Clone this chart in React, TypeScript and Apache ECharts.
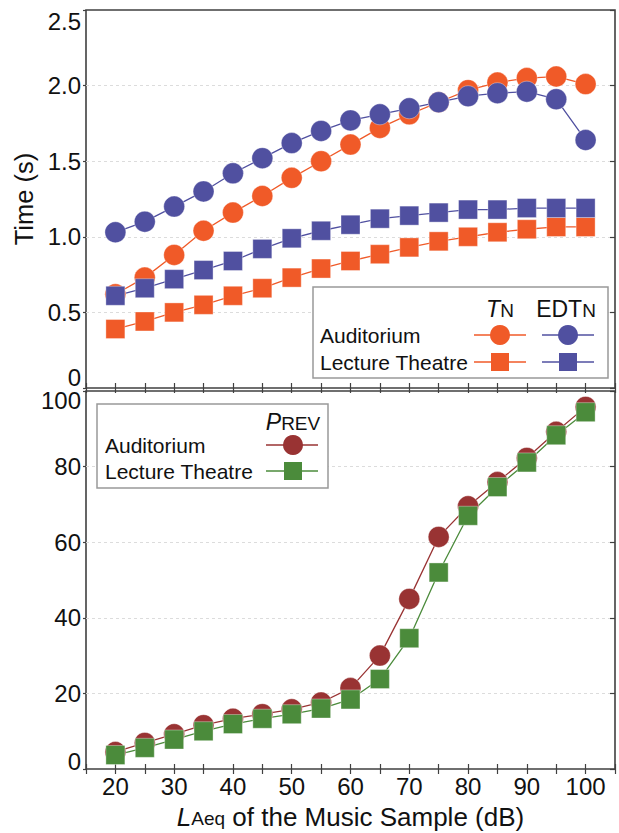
import React, { useEffect, useRef } from "react";
import * as echarts from "echarts";

const xValues = [20, 25, 30, 35, 40, 45, 50, 55, 60, 65, 70, 75, 80, 85, 90, 95, 100];
const xTickLabels = [20, 30, 40, 50, 60, 70, 80, 90, 100];

const audTN = [0.62, 0.73, 0.88, 1.04, 1.16, 1.27, 1.39, 1.5, 1.61, 1.72, 1.81, 1.89, 1.97, 2.02, 2.05, 2.06, 2.01];
const audEDT = [1.03, 1.1, 1.2, 1.3, 1.42, 1.52, 1.62, 1.7, 1.77, 1.81, 1.85, 1.89, 1.93, 1.95, 1.96, 1.91, 1.64];
const lecTN = [0.39, 0.44, 0.5, 0.55, 0.61, 0.66, 0.73, 0.79, 0.84, 0.885, 0.93, 0.97, 1.0, 1.03, 1.05, 1.065, 1.065];
const lecEDT = [0.61, 0.66, 0.72, 0.78, 0.84, 0.92, 0.99, 1.04, 1.08, 1.12, 1.14, 1.16, 1.18, 1.18, 1.19, 1.19, 1.19];

const audPREV = [4.5, 6.9, 9.2, 11.6, 13.3, 14.5, 15.8, 17.6, 21.4, 30.0, 45.0, 61.4, 69.5, 75.9, 82.3, 89.2, 95.8];
const lecPREV = [3.7, 5.6, 7.8, 10.0, 11.9, 13.3, 14.5, 16.0, 18.4, 23.8, 34.6, 52.0, 67.0, 74.6, 81.1, 88.3, 94.4];

const FONT = "'Liberation Sans', Arial, sans-serif";
const ORANGE = "#F05A28";
const BLUE = "#5050A0";
const DARKRED = "#993333";
const GREEN = "#4B8B3B";
const FRAME = "#404040";
const TXT = "#111111";

const pairs = (ys: number[]) => xValues.map((x, i) => [x, ys[i]]);

export default function App() {
  const ref = useRef<HTMLDivElement>(null);
  useEffect(() => {
    document.body.style.margin = "0";
    const chart = echarts.init(ref.current!, undefined, { renderer: "svg" });

    const lbl = { fontSize: 24, fontFamily: FONT, color: TXT };
    const gridLeft = 86;
    const gridW = 529;
    const grids = [
      { left: gridLeft, top: 10, width: gridW, height: 378, show: true, borderColor: FRAME, borderWidth: 1.6, backgroundColor: "transparent", containLabel: false, outerBoundsMode: "none" },
      { left: gridLeft, top: 391, width: gridW, height: 378, show: true, borderColor: FRAME, borderWidth: 1.6, backgroundColor: "transparent", containLabel: false, outerBoundsMode: "none" },
    ];

    const xAxisBase = {
      type: "value",
      min: 15,
      max: 105,
      interval: 5,
      axisLine: { show: false },
      axisTick: { show: true, inside: true, length: 5, lineStyle: { color: FRAME, width: 1.2 } },
      splitLine: { show: false },
    };

    const xAxes = [
      { ...xAxisBase, gridIndex: 0, position: "bottom", axisLabel: { show: false } },
      { ...xAxisBase, gridIndex: 0, position: "top", axisLabel: { show: false } },
      {
        ...xAxisBase,
        gridIndex: 1,
        position: "bottom",
        axisLabel: {
          ...lbl,
          margin: 5,
          showMinLabel: true,
          showMaxLabel: true,
          formatter: (v: number) => (xTickLabels.includes(v) ? String(v) : ""),
        },
        name: "{i|L}{s|Aeq}{n| of the Music Sample (dB)}",
        nameLocation: "middle",
        nameGap: 35,
        nameTextStyle: {
          lineHeight: 26,
          rich: {
            i: { fontSize: 26, lineHeight: 26, fontStyle: "italic", fontFamily: FONT, color: TXT, verticalAlign: "middle" },
            s: { fontSize: 19, lineHeight: 26, fontFamily: FONT, color: TXT, verticalAlign: "middle", padding: [2, 0, 0, 0] },
            n: { fontSize: 26, lineHeight: 26, fontFamily: FONT, color: TXT, verticalAlign: "middle" },
          },
        },
      },
      { ...xAxisBase, gridIndex: 1, position: "top", axisLabel: { show: false } },
    ];

    const yTopFmt = (v: number) => {
      if (v === 0) return "{lo|0}";
      if (v === 2.5) return "{hi|2.5}";
      return v.toFixed(1);
    };
    const yBotFmt = (v: number) => {
      if (v === 0) return "{lo|0}";
      if (v === 100) return "{hi|100}";
      return String(v);
    };
    const richBase = { fontSize: 24, fontFamily: FONT, color: TXT, lineHeight: 14 };
    const split = { show: true, showMinLine: false, showMaxLine: false, lineStyle: { color: "#dcdcdc", type: [3, 3], width: 1 } };

    const yAxes = [
      {
        type: "value",
        gridIndex: 0,
        position: "left",
        min: 0,
        max: 2.5,
        interval: 0.5,
        axisLine: { show: false },
        axisTick: { show: true, inside: false, length: 3, lineStyle: { color: FRAME, width: 1.2 } },
        splitLine: split,
        axisLabel: {
          ...lbl,
          margin: 5,
          showMinLabel: true,
          showMaxLabel: true,
          formatter: yTopFmt,
          rich: {
            lo: { ...richBase, padding: [0, 0, 21, 0] },
            hi: { ...richBase, padding: [23, 0, 0, 0] },
          },
        },
        name: "Time (s)",
        nameLocation: "middle",
        nameGap: 45,
        nameTextStyle: { fontSize: 25.5, fontFamily: FONT, color: TXT },
      },
      {
        type: "value",
        gridIndex: 0,
        position: "right",
        min: 0,
        max: 2.5,
        interval: 0.5,
        axisLine: { show: false },
        axisTick: { show: true, inside: true, length: 5, lineStyle: { color: FRAME, width: 1.2 } },
        splitLine: { show: false },
        axisLabel: { show: false },
      },
      {
        type: "value",
        gridIndex: 1,
        position: "left",
        min: 0,
        max: 100,
        interval: 20,
        axisLine: { show: false },
        axisTick: { show: true, inside: false, length: 3, lineStyle: { color: FRAME, width: 1.2 } },
        splitLine: split,
        axisLabel: {
          ...lbl,
          margin: 5,
          showMinLabel: true,
          showMaxLabel: true,
          formatter: yBotFmt,
          rich: {
            lo: { ...richBase, padding: [0, 0, 15, 0] },
            hi: { ...richBase, padding: [18, 0, 0, 0] },
          },
        },
      },
      {
        type: "value",
        gridIndex: 1,
        position: "right",
        min: 0,
        max: 100,
        interval: 20,
        axisLine: { show: false },
        axisTick: { show: true, inside: true, length: 5, lineStyle: { color: FRAME, width: 1.2 } },
        splitLine: { show: false },
        axisLabel: { show: false },
      },
    ];

    const mk = (name: string, data: number[], color: string, symbol: string, size: number, xi: number, yi: number) => ({
      name,
      type: "line",
      xAxisIndex: xi,
      yAxisIndex: yi,
      data: pairs(data),
      symbol,
      symbolSize: size,
      showSymbol: true,
      lineStyle: { color, width: 1.3 },
      itemStyle: { color, borderColor: "rgba(255,255,255,0.35)", borderWidth: 1 },
      emphasis: { disabled: true },
    });

    const series = [
      mk("Auditorium TN", audTN, ORANGE, "circle", 21, 0, 0),
      mk("Lecture Theatre TN", lecTN, ORANGE, "rect", 19, 0, 0),
      mk("Auditorium EDTN", audEDT, BLUE, "circle", 21, 0, 0),
      mk("Lecture Theatre EDTN", lecEDT, BLUE, "rect", 19, 0, 0),
      mk("Auditorium PREV", audPREV, DARKRED, "circle", 21, 2, 2),
      mk("Lecture Theatre PREV", lecPREV, GREEN, "rect", 19, 2, 2),
    ];

    const txt = (x: number, y: number, text: string, align: string, rich?: any) => ({
      type: "text",
      x,
      y,
      z: 101,
      style: {
        text,
        font: `21px ${FONT}`,
        fill: TXT,
        align,
        verticalAlign: "middle",
        ...(rich ? { rich } : {}),
      },
    });
    const legLine = (x1: number, x2: number, y: number, color: string) => ({
      type: "line",
      z: 101,
      shape: { x1, y1: y, x2, y2: y },
      style: { stroke: color, lineWidth: 1.5 },
    });
    const legCircle = (cx: number, cy: number, color: string) => ({
      type: "circle",
      z: 102,
      shape: { cx, cy, r: 10 },
      style: { fill: color },
    });
    const legRect = (cx: number, cy: number, color: string) => ({
      type: "rect",
      z: 102,
      shape: { x: cx - 9, y: cy - 9, width: 18, height: 18 },
      style: { fill: color },
    });

    const headRich = {
      i: { fontSize: 23, fontStyle: "italic", fontFamily: FONT, color: TXT, verticalAlign: "middle" },
      n: { fontSize: 23, fontFamily: FONT, color: TXT, verticalAlign: "middle" },
      s: { fontSize: 19, fontFamily: FONT, color: TXT, verticalAlign: "middle", padding: [2, 0, 0, 0] },
    };

    const graphic = [
      // top legend
      {
        type: "rect",
        z: 100,
        shape: { x: 313, y: 287, width: 295, height: 91 },
        style: { fill: "#fff", stroke: "#999", lineWidth: 1.5 },
      },
      txt(500, 309, "{i|T}{s|N}", "center", headRich),
      txt(566, 309, "{n|EDT}{s|N}", "center", headRich),
      txt(320, 335, "Auditorium", "left"),
      txt(320, 362, "Lecture Theatre", "left"),
      legLine(474, 526, 335, ORANGE),
      legCircle(500, 335, ORANGE),
      legLine(542, 594, 335, BLUE),
      legCircle(568, 335, BLUE),
      legLine(474, 526, 362, ORANGE),
      legRect(500, 362, ORANGE),
      legLine(542, 594, 362, BLUE),
      legRect(568, 362, BLUE),
      // bottom legend
      {
        type: "rect",
        z: 100,
        shape: { x: 97, y: 404, width: 231, height: 84 },
        style: { fill: "#fff", stroke: "#999", lineWidth: 1.5 },
      },
      txt(293, 422, "{i|P}{s|REV}", "center", headRich),
      txt(105, 445, "Auditorium", "left"),
      txt(105, 471, "Lecture Theatre", "left"),
      legLine(266, 318, 445, DARKRED),
      legCircle(293, 445, DARKRED),
      legLine(266, 318, 471, GREEN),
      legRect(293, 471, GREEN),
    ];

    chart.setOption({
      animation: false,
      backgroundColor: "#fff",
      textStyle: { fontFamily: FONT },
      grid: grids,
      xAxis: xAxes,
      yAxis: yAxes,
      series,
      graphic,
    });
    return () => chart.dispose();
  }, []);
  return <div ref={ref} style={{ width: 619, height: 833 }} />;
}
